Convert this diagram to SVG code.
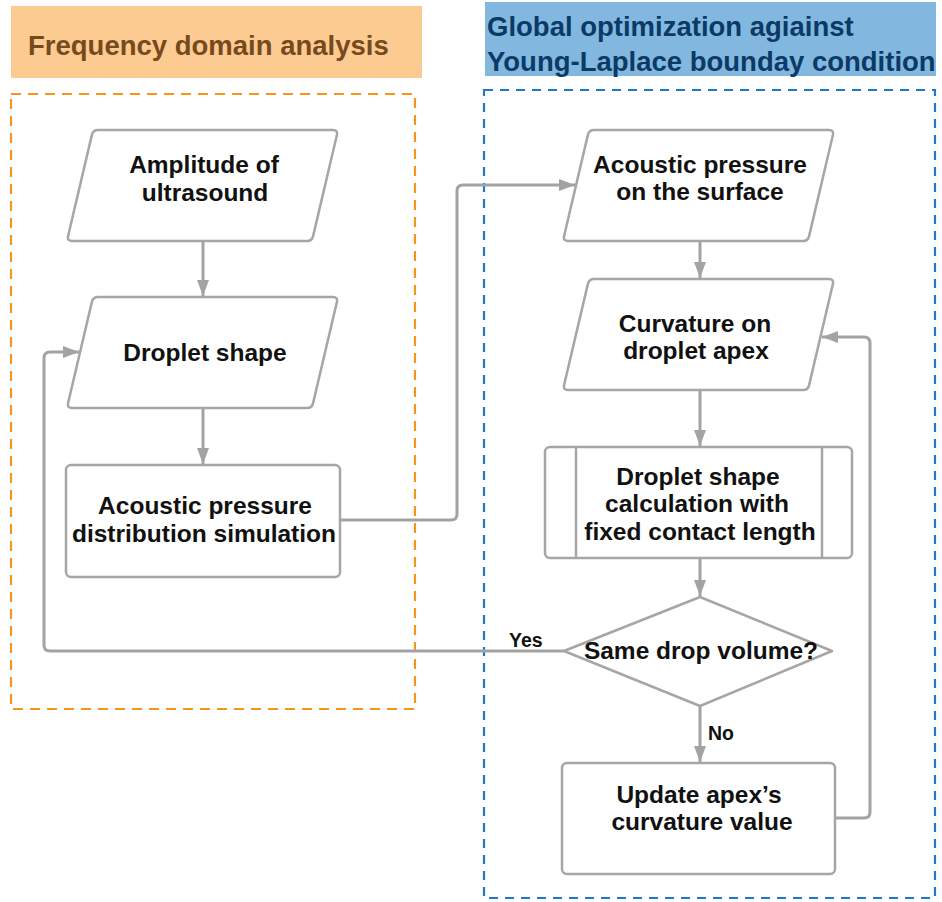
<svg xmlns="http://www.w3.org/2000/svg" xmlns:xlink="http://www.w3.org/1999/xlink" width="942" height="902" viewBox="0 0 942 902">
<style>
.node{fill:#fff;stroke:#A6A6A6;stroke-width:2.5}
.t{font-family:"Liberation Sans",Arial,Helvetica,sans-serif;font-weight:bold;font-size:24.5px;fill:#111;text-anchor:middle}
.lbl{font-family:"Liberation Sans",Arial,Helvetica,sans-serif;font-weight:bold;font-size:19.5px;fill:#111}
.hdr{font-family:"Liberation Sans",Arial,Helvetica,sans-serif;font-weight:bold;font-size:27.5px}
.conn{fill:none;stroke:#A3A3A3;stroke-width:3}
</style>
<defs>
<path id="para" d="M 31,0 H 266 Q 271,0 269.9,4.9 L 246.1,106.1 Q 245,111 240,111 H 5 Q 0,111 1.1,106.1 L 24.9,4.9 Q 26,0 31,0 Z"/>
<marker id="arr" markerUnits="userSpaceOnUse" markerWidth="17" markerHeight="12" refX="16" refY="6" orient="auto">
<path d="M0,0 L16,6 L0,12 Z" fill="#A3A3A3"/>
</marker>
</defs>
<rect width="942" height="902" fill="#fff"/>

<g id="group-frequency">
<rect x="11" y="6" width="411" height="72" fill="#FBCB92"/>
<text class="hdr" x="28" y="55" fill="#774A1E">Frequency domain analysis</text>
<rect x="11" y="94" width="404" height="615" fill="none" stroke="#F7941D" stroke-width="2.2" stroke-dasharray="10 7"/>
</g>
<g id="group-global">
<rect x="485" y="2" width="451" height="74" fill="#82B8DF"/>
<text class="hdr" x="487" y="36" fill="#0B3A66">Global optimization agiainst</text>
<text class="hdr" x="487" y="71" fill="#0B3A66">Young-Laplace bounday condition</text>
<rect x="484" y="90" width="451" height="808" fill="none" stroke="#1F78C8" stroke-width="2.2" stroke-dasharray="9 7"/>
</g>

<g id="connectors">
<line class="conn" x1="203" y1="241" x2="203" y2="296" marker-end="url(#arr)"/>
<line class="conn" x1="203" y1="408" x2="203" y2="464" marker-end="url(#arr)"/>
<path class="conn" d="M 340,520 H 451 Q 457,520 457,514 V 191 Q 457,185 463,185 H 575" marker-end="url(#arr)"/>
<line class="conn" x1="700" y1="240" x2="700" y2="278" marker-end="url(#arr)"/>
<line class="conn" x1="700" y1="389" x2="700" y2="446" marker-end="url(#arr)"/>
<line class="conn" x1="700" y1="558" x2="700" y2="596" marker-end="url(#arr)"/>
<line class="conn" x1="700" y1="706" x2="700" y2="762" marker-end="url(#arr)"/>
<path class="conn" d="M 564,651 H 50 Q 44,651 44,645 V 358 Q 44,352 50,352 H 79" marker-end="url(#arr)"/>
<path class="conn" d="M 835,818 H 864 Q 870,818 870,812 V 343 Q 870,337 864,337 H 822" marker-end="url(#arr)"/>
<text class="lbl" x="509" y="647">Yes</text>
<text class="lbl" x="708" y="740">No</text>
</g>

<g id="amplitude">
<use href="#para" xlink:href="#para" class="node" transform="translate(67,130)"/>
<text class="t" x="204" y="173">Amplitude of</text>
<text class="t" x="205" y="201">ultrasound</text>
</g>
<g id="droplet-shape">
<use href="#para" xlink:href="#para" class="node" transform="translate(67,297)"/>
<text class="t" x="205" y="361">Droplet shape</text>
</g>
<g id="pressure-simulation">
<rect class="node" x="66" y="465" width="274" height="112" rx="5"/>
<text class="t" x="205" y="514">Acoustic pressure</text>
<text class="t" x="204" y="542">distribution simulation</text>
</g>
<g id="pressure-surface">
<use href="#para" xlink:href="#para" class="node" transform="translate(563,130)"/>
<text class="t" x="700" y="173">Acoustic pressure</text>
<text class="t" x="700" y="200">on the surface</text>
</g>
<g id="curvature-apex">
<use href="#para" xlink:href="#para" class="node" transform="translate(563,279)"/>
<text class="t" x="695" y="332">Curvature on</text>
<text class="t" x="696" y="359">droplet apex</text>
</g>
<g id="shape-calculation">
<rect class="node" x="545" y="447" width="307" height="111" rx="5"/>
<line class="node" x1="576" y1="447" x2="576" y2="558"/>
<line class="node" x1="822" y1="447" x2="822" y2="558"/>
<text class="t" x="698" y="485">Droplet shape</text>
<text class="t" x="697" y="512">calculation with</text>
<text class="t" x="700" y="540">fixed contact length</text>
</g>
<g id="same-volume">
<polygon class="node" points="700,597 832,651 700,706 564,651" stroke-linejoin="round"/>
<text class="t" x="701" y="659">Same drop volume?</text>
</g>
<g id="update-curvature">
<rect class="node" x="562" y="763" width="273" height="111" rx="5"/>
<text class="t" x="699" y="803">Update apex’s</text>
<text class="t" x="702" y="830">curvature value</text>
</g>
</svg>
